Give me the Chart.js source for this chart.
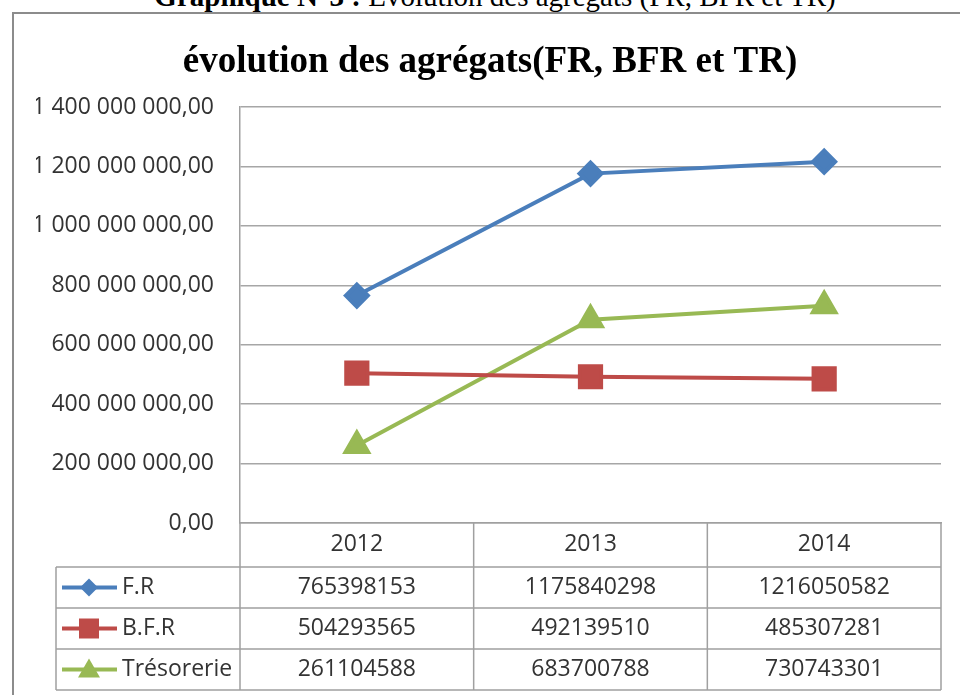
<!DOCTYPE html>
<html>
<head>
<meta charset="utf-8">
<script src="https://cdn.jsdelivr.net/npm/chart.js@4/dist/chart.umd.min.js"></script>
<style>
  html, body { margin: 0; padding: 0; background: #fff; }
  #wrap { position: relative; width: 960px; height: 695px; overflow: hidden; }
  #caption {
    position: absolute; top: -20px; left: 0; width: 990px; text-align: center;
    font: 29px "Liberation Serif", serif; color: #000; white-space: nowrap;
  }
  #frame {
    position: absolute; left: 12px; top: 12px; width: 1000px; height: 720px;
    border-left: 2px solid #8c8c8c; border-top: 2px solid #8c8c8c;
  }
  canvas { position: absolute; left: 0; top: 0; }
</style>
</head>
<body>
<div id="wrap">
  <div id="caption"><b>Graphique N°3 :</b> Évolution des agrégats (FR, BFR et TR)</div>
  <div id="frame"></div>
  <canvas id="chart" width="960" height="695"></canvas>
</div>
<script>
const years = ['2012', '2013', '2014'];
const fr = [765398153, 1175840298, 1216050582];
const bfr = [504293565, 492139510, 485307281];
const tresorerie = [261104588, 683700788, 730743301];
const seriesNames = ['F.R', 'B.F.R', 'Trésorerie'];

const BLUE = '#4a7ebb';
const RED = '#be4b48';
const GREEN = '#98b954';
const FONT = '"Open Sans", sans-serif';

function frNumber(v) {
  return Math.round(v).toString().replace(/\B(?=(\d{3})+(?!\d))/g, ' ') + ',00';
}

// draws a small marker in the legend key of the data table
function drawKey(ctx, style, x, y, color) {
  ctx.fillStyle = color;
  ctx.beginPath();
  if (style === 'rectRot') {
    const r = 9;
    ctx.moveTo(x, y - r); ctx.lineTo(x + r, y); ctx.lineTo(x, y + r); ctx.lineTo(x - r, y);
  } else if (style === 'rect') {
    ctx.rect(x - 10, y - 10, 20, 20);
  } else {
    ctx.moveTo(x, y - 11); ctx.lineTo(x + 11, y + 8); ctx.lineTo(x - 11, y + 8);
  }
  ctx.closePath();
  ctx.fill();
}

const dataTable = {
  id: 'dataTable',
  afterDraw(chart) {
    const { ctx, chartArea } = chart;
    const xs = chart.scales.x;
    const top = chartArea.bottom;
    const headH = 44, rowH = 41;
    const keyLeft = 56;
    const right = xs.right;
    const colW = (xs.right - xs.left) / years.length;
    const bottom = top + headH + rowH * 3;

    ctx.save();
    ctx.strokeStyle = '#a0a0a0';
    ctx.lineWidth = 1.5;
    ctx.beginPath();
    for (let r = 0; r <= 3; r++) {
      const y = top + headH + r * rowH;
      ctx.moveTo(keyLeft, y); ctx.lineTo(right, y);
    }
    ctx.moveTo(keyLeft, top + headH); ctx.lineTo(keyLeft, bottom);
    for (let c = 0; c <= years.length; c++) {
      const x = xs.left + c * colW;
      ctx.moveTo(x, top); ctx.lineTo(x, bottom);
    }
    ctx.stroke();

    ctx.font = '23px ' + FONT;
    ctx.textBaseline = 'middle';
    chart.data.datasets.forEach((ds, i) => {
      const cy = top + headH + i * rowH + rowH / 2;
      // legend key
      ctx.strokeStyle = ds.borderColor;
      ctx.lineWidth = 4;
      ctx.beginPath();
      ctx.moveTo(62, cy); ctx.lineTo(117, cy);
      ctx.stroke();
      drawKey(ctx, ds.pointStyle, 89, cy, ds.borderColor);
      ctx.fillStyle = '#333';
      ctx.textAlign = 'left';
      ctx.fillText(seriesNames[i], 122, cy);
      ctx.textAlign = 'center';
      ds.data.forEach((v, j) => {
        ctx.fillText(String(v), xs.getPixelForValue(j), cy);
      });
    });
    ctx.restore();
  }
};

new Chart(document.getElementById('chart').getContext('2d'), {
  type: 'line',
  data: {
    labels: years,
    datasets: [
      {
        label: seriesNames[0],
        data: fr,
        borderColor: BLUE,
        backgroundColor: BLUE,
        borderWidth: 4,
        pointStyle: 'rectRot',
        pointRadius: 11,
      },
      {
        label: seriesNames[1],
        data: bfr,
        borderColor: RED,
        backgroundColor: RED,
        borderWidth: 4,
        pointStyle: 'rect',
        pointRadius: 15,
      },
      {
        label: seriesNames[2],
        data: tresorerie,
        borderColor: GREEN,
        backgroundColor: GREEN,
        borderWidth: 4,
        pointStyle: 'triangle',
        pointRadius: 13,
      },
    ],
  },
  options: {
    responsive: false,
    animation: false,
    layout: { padding: { left: 36, right: 16, top: 0, bottom: 0 } },
    plugins: {
      legend: { display: false },
      tooltip: { enabled: false },
      title: {
        display: true,
        text: 'évolution des agrégats(FR, BFR et TR)',
        color: '#000',
        font: { family: '"Liberation Serif", serif', size: 37, weight: 'bold', lineHeight: 1.2 },
        padding: { top: 40, bottom: 22.6 },
      },
    },
    scales: {
      x: {
        offset: true,
        grid: { display: false, drawTicks: false },
        border: { display: true, color: '#a0a0a0', width: 1.5 },
        ticks: { color: '#333', padding: 8, font: { family: FONT, size: 23 } },
        afterFit: s => { s.height = 172; },
      },
      y: {
        min: 0,
        max: 1400000000,
        ticks: {
          stepSize: 200000000,
          color: '#333',
          padding: 26,
          font: { family: FONT, size: 23 },
          callback: v => frNumber(v),
        },
        grid: { color: '#a6a6a6', lineWidth: 1.5, drawTicks: false },
        border: { display: true, color: '#a0a0a0', width: 1.5 },
        afterFit: s => { s.width = 204; },
      },
    },
  },
  plugins: [dataTable],
});
</script>
</body>
</html>
